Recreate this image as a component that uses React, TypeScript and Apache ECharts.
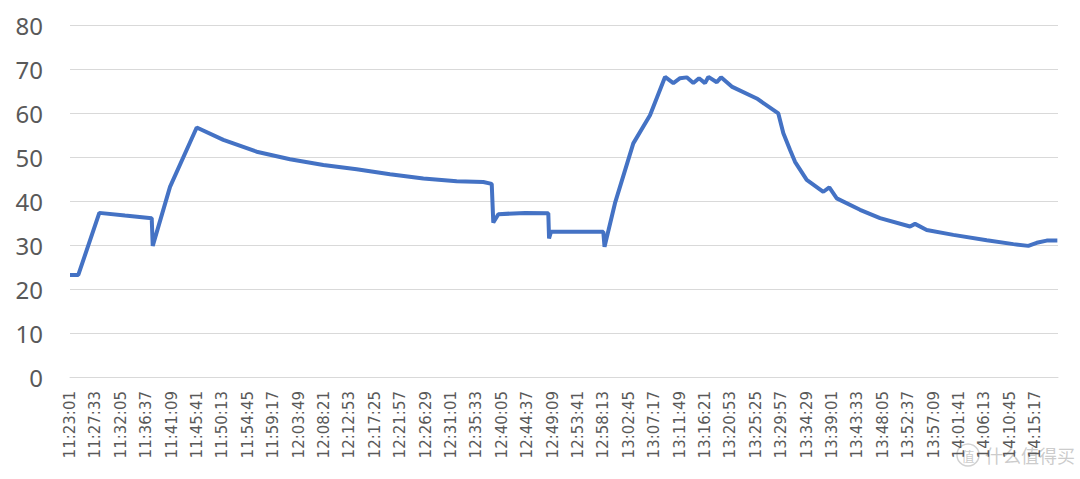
import React, { useEffect, useRef } from "react";
import * as echarts from "echarts";

const START_TIME = "11:23:01";
const END_TIME = "14:19:21";
const TICK_STEP_SEC = 272;

const tickLabels = [
  "11:23:01", "11:27:33", "11:32:05", "11:36:37", "11:41:09", "11:45:41", "11:50:13",
  "11:54:45", "11:59:17", "12:03:49", "12:08:21", "12:12:53", "12:17:25", "12:21:57",
  "12:26:29", "12:31:01", "12:35:33", "12:40:05", "12:44:37", "12:49:09", "12:53:41",
  "12:58:13", "13:02:45", "13:07:17", "13:11:49", "13:16:21", "13:20:53", "13:25:25",
  "13:29:57", "13:34:29", "13:39:01", "13:43:33", "13:48:05", "13:52:37", "13:57:09",
  "14:01:41", "14:06:13", "14:10:45", "14:15:17",
];

const times = [
  "11:23:01", "11:24:30", "11:28:15", "11:32:50", "11:37:36", "11:37:47", "11:40:52",
  "11:45:38", "11:50:23", "11:56:20", "12:02:17", "12:08:14", "12:14:11", "12:20:08",
  "12:26:05", "12:32:02", "12:36:47", "12:38:17", "12:38:34", "12:39:28", "12:44:14",
  "12:48:23", "12:48:31", "12:48:52", "12:58:12", "12:58:25", "13:00:17", "13:03:33",
  "13:06:32", "13:09:13", "13:10:42", "13:11:54", "13:13:05", "13:14:16", "13:15:17",
  "13:16:21", "13:16:57", "13:18:27", "13:19:13", "13:21:07", "13:25:35", "13:29:26",
  "13:30:20", "13:31:32", "13:32:25", "13:34:30", "13:37:28", "13:38:32", "13:39:52",
  "13:44:01", "13:47:35", "13:52:57", "13:53:50", "13:55:55", "14:00:40", "14:06:38",
  "14:11:23", "14:14:03", "14:15:33", "14:17:20", "14:19:14",
];

const temps = [
  23.2, 23.2, 37.3, 36.7, 36.1, 29.8, 43.2,
  56.7, 53.9, 51.2, 49.5, 48.2, 47.2, 46.1,
  45.1, 44.5, 44.3, 43.9, 35.1, 37.0, 37.3,
  37.2, 31.5, 33.0, 33.0, 29.6, 39.5, 53.1,
  59.5, 68.2, 66.8, 67.9, 68.1, 66.8, 67.9,
  66.8, 68.2, 67.0, 68.1, 66.0, 63.3, 59.9,
  55.4, 51.6, 48.9, 44.8, 42.1, 43.1, 40.6,
  38.0, 36.1, 34.2, 34.8, 33.4, 32.3, 31.1,
  30.2, 29.8, 30.5, 31.0, 31.0,
];

function toSec(t: string): number {
  const [h, m, s] = t.split(":").map(Number);
  return h * 3600 + m * 60 + s;
}

export default function App() {
  const ref = useRef<HTMLDivElement>(null);

  useEffect(() => {
    document.body.style.margin = "0";
    if (!ref.current) return;
    const chart = echarts.init(ref.current, null, { renderer: "svg" });
    const start = toSec(START_TIME);
    const data = times.map((t, i) => [toSec(t) - start, temps[i]]);

    chart.setOption({
      animation: false,
      backgroundColor: "#ffffff",
      grid: { left: 70, right: 22, top: 25, bottom: 102, containLabel: false },
      xAxis: {
        type: "value",
        min: 0,
        max: toSec(END_TIME) - start,
        interval: TICK_STEP_SEC,
        axisLine: { show: true, lineStyle: { color: "#d9d9d9", width: 1 } },
        axisTick: { show: false },
        splitLine: { show: false },
        axisLabel: {
          rotate: 90,
          margin: 14,
          showMaxLabel: false,
          color: "#595959",
          fontSize: 15,
          fontFamily: "DejaVu Sans",
          formatter: (v: number) => {
            const idx = Math.round(v / TICK_STEP_SEC);
            return tickLabels[idx] ?? "";
          },
        },
      },
      yAxis: {
        type: "value",
        min: 0,
        max: 80,
        interval: 10,
        axisLine: { show: false },
        axisTick: { show: false },
        splitLine: { show: true, lineStyle: { color: "#d9d9d9", width: 1 } },
        axisLabel: {
          margin: 27,
          color: "#595959",
          fontSize: 24,
          fontFamily: "Noto Sans",
        },
      },
      series: [
        {
          type: "line",
          data,
          showSymbol: false,
          symbol: "none",
          lineStyle: { color: "#4472C4", width: 4 },
          itemStyle: { color: "#4472C4" },
        },
      ],
      graphic: [
        {
          type: "circle",
          shape: { cx: 968, cy: 455, r: 11 },
          style: { fill: "none", stroke: "rgba(190,190,190,0.7)", lineWidth: 1.5 },
          silent: true,
        },
        {
          type: "text",
          x: 968,
          y: 455,
          style: {
            text: "值",
            fill: "rgba(190,190,190,0.8)",
            fontSize: 13,
            fontFamily: "Noto Sans CJK SC",
            align: "center",
            verticalAlign: "middle",
          },
          silent: true,
        },
        {
          type: "text",
          x: 985,
          y: 455,
          style: {
            text: "什么值得买",
            fill: "rgba(190,190,190,0.8)",
            fontSize: 18,
            fontFamily: "Noto Sans CJK SC",
            align: "left",
            verticalAlign: "middle",
          },
          silent: true,
        },
      ],
    });

    return () => chart.dispose();
  }, []);

  return <div ref={ref} style={{ width: 1080, height: 479 }} />;
}
